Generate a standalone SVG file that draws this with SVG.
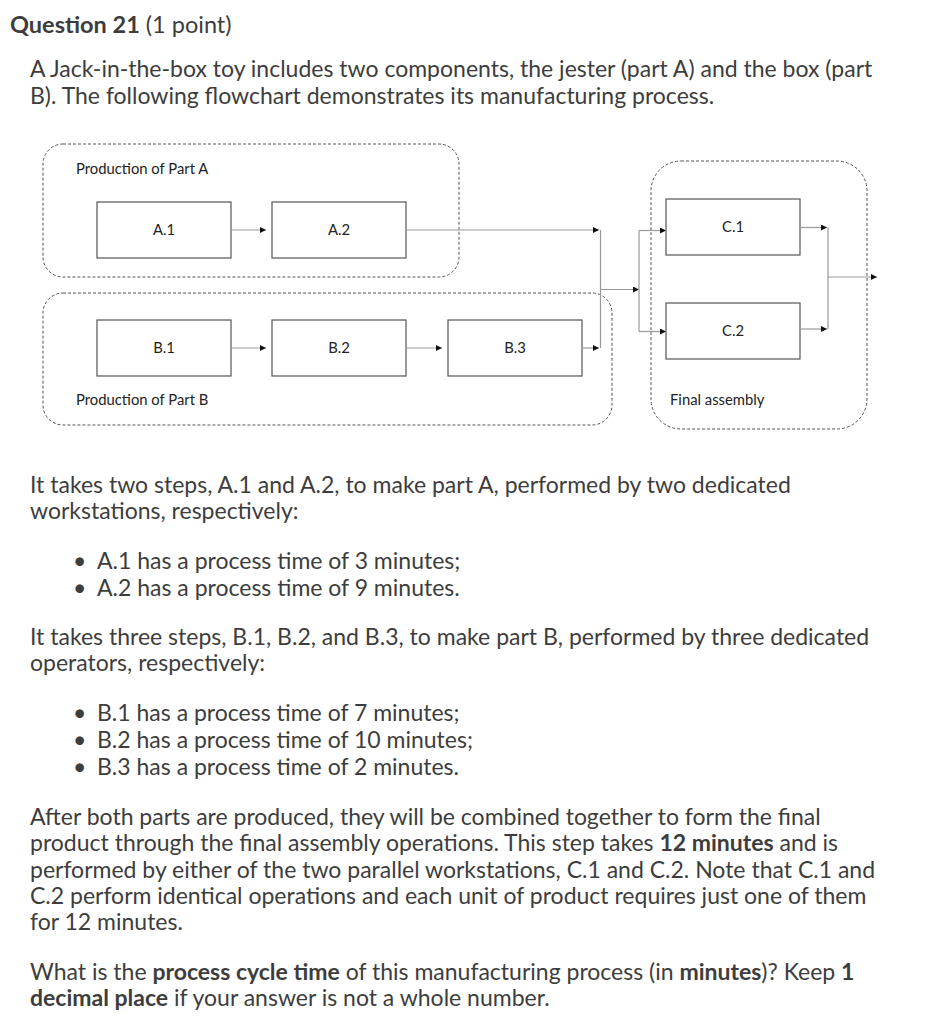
<svg xmlns="http://www.w3.org/2000/svg" width="942" height="1024" viewBox="0 0 942 1024">
<style>
.t{font-family:Lato,"Liberation Sans",sans-serif;font-size:23px;fill:#3d3d3d}
.b{font-weight:bold}
.h{font-family:Lato,"Liberation Sans",sans-serif;font-size:23.5px;fill:#3d3d3d}
.lbl{font-family:Lato,"Liberation Sans",sans-serif;font-size:14.8px;fill:#222}
.box{fill:#fff;stroke:#555;stroke-width:1.2}
.grp{fill:none;stroke:#555;stroke-width:1;stroke-dasharray:3 2}
.con{fill:none;stroke:#999;stroke-width:1.2}
</style>
<defs>
<marker id="ah" viewBox="0 0 10 10" refX="10" refY="5" markerWidth="6" markerHeight="6" orient="auto" markerUnits="userSpaceOnUse">
<path d="M0,0 L10,5 L0,10 z" fill="#111"/>
</marker>
</defs>
<rect width="942" height="1024" fill="#fff"/>

<text class="h" x="10" y="33"><tspan class="b">Question 21</tspan> (1 point)</text>
<text class="t" x="30" y="77">A Jack-in-the-box toy includes two components, the jester (part A) and the box (part</text>
<text class="t" x="30" y="104">B). The following flowchart demonstrates its manufacturing process.</text>

<g id="groupA">
<rect class="grp" x="43" y="144" width="416" height="133" rx="20"/>
<text class="lbl" x="76" y="174">Production of Part A</text>
</g>
<g id="groupB">
<rect class="grp" x="43" y="293" width="569" height="132" rx="20"/>
<text class="lbl" x="76" y="405">Production of Part B</text>
</g>
<g id="groupC">
<rect class="grp" x="651" y="161" width="216" height="268" rx="30"/>
<text class="lbl" x="670" y="405">Final assembly</text>
</g>

<g id="A1"><rect class="box" x="97" y="202" width="134" height="56"/><text class="lbl" x="164" y="235" text-anchor="middle">A.1</text></g>
<g id="A2"><rect class="box" x="272" y="202" width="134" height="56"/><text class="lbl" x="339" y="235" text-anchor="middle">A.2</text></g>
<g id="B1"><rect class="box" x="97" y="320" width="134" height="56"/><text class="lbl" x="164" y="353" text-anchor="middle">B.1</text></g>
<g id="B2"><rect class="box" x="272" y="320" width="134" height="56"/><text class="lbl" x="339" y="353" text-anchor="middle">B.2</text></g>
<g id="B3"><rect class="box" x="448" y="320" width="134" height="56"/><text class="lbl" x="515" y="353" text-anchor="middle">B.3</text></g>
<g id="C1"><rect class="box" x="666" y="199" width="134" height="56"/><text class="lbl" x="733" y="232" text-anchor="middle">C.1</text></g>
<g id="C2"><rect class="box" x="666" y="303" width="134" height="56"/><text class="lbl" x="733" y="336" text-anchor="middle">C.2</text></g>

<g id="connectors">
<path class="con" d="M231,230 H266" marker-end="url(#ah)"/>
<path class="con" d="M406,230 H599" marker-end="url(#ah)"/>
<path class="con" d="M231,348 H266" marker-end="url(#ah)"/>
<path class="con" d="M406,348 H442" marker-end="url(#ah)"/>
<path class="con" d="M582,348 H599" marker-end="url(#ah)"/>
<path class="con" d="M600.5,230 V348"/>
<path class="con" d="M600.5,289.5 H639" marker-end="url(#ah)"/>
<path class="con" d="M639,230.5 V331.5"/>
<path class="con" d="M639,230.5 H666" marker-end="url(#ah)"/>
<path class="con" d="M639,331.5 H666" marker-end="url(#ah)"/>
<path class="con" d="M800,227.5 H827" marker-end="url(#ah)"/>
<path class="con" d="M800,329 H827" marker-end="url(#ah)"/>
<path class="con" d="M828,227.5 V329"/>
<path class="con" d="M828,277 H877" marker-end="url(#ah)"/>
</g>

<text class="t" x="30" y="493">It takes two steps, A.1 and A.2, to make part A, performed by two dedicated</text>
<text class="t" x="30" y="519">workstations, respectively:</text>
<text class="t" x="73" y="569">•</text><text class="t" x="97" y="569">A.1 has a process time of 3 minutes;</text>
<text class="t" x="73" y="596">•</text><text class="t" x="97" y="596">A.2 has a process time of 9 minutes.</text>
<text class="t" x="30" y="645">It takes three steps, B.1, B.2, and B.3, to make part B, performed by three dedicated</text>
<text class="t" x="30" y="671">operators, respectively:</text>
<text class="t" x="73" y="721">•</text><text class="t" x="97" y="721">B.1 has a process time of 7 minutes;</text>
<text class="t" x="73" y="748">•</text><text class="t" x="97" y="748">B.2 has a process time of 10 minutes;</text>
<text class="t" x="73" y="775">•</text><text class="t" x="97" y="775">B.3 has a process time of 2 minutes.</text>
<text class="t" x="30" y="825">After both parts are produced, they will be combined together to form the final</text>
<text class="t" x="30" y="851">product through the final assembly operations. This step takes <tspan class="b">12 minutes</tspan> and is</text>
<text class="t" x="30" y="878">performed by either of the two parallel workstations, C.1 and C.2. Note that C.1 and</text>
<text class="t" x="30" y="904">C.2 perform identical operations and each unit of product requires just one of them</text>
<text class="t" x="30" y="930">for 12 minutes.</text>
<text class="t" x="30" y="980">What is the <tspan class="b">process cycle time</tspan> of this manufacturing process (in <tspan class="b">minutes</tspan>)? Keep <tspan class="b">1</tspan></text>
<text class="t" x="30" y="1006"><tspan class="b">decimal place</tspan> if your answer is not a whole number.</text>
</svg>
